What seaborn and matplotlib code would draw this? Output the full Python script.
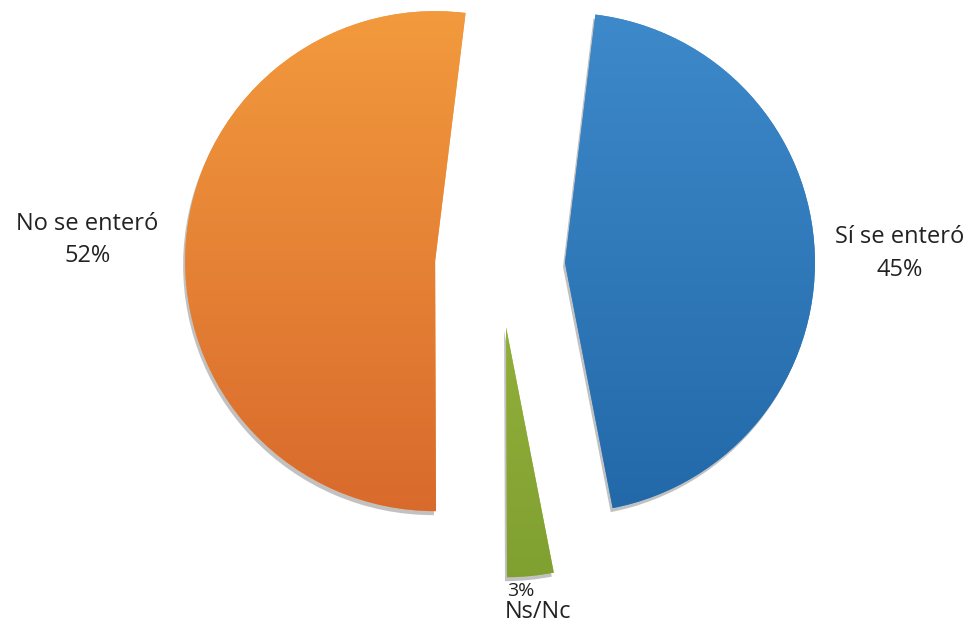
import numpy as np
import matplotlib
matplotlib.use("Agg")
import matplotlib.pyplot as plt
from matplotlib.colors import LinearSegmentedColormap
import seaborn as sns

sns.set_style("white")
plt.rcParams['font.family'] = ['Open Sans', 'DejaVu Sans']

labels = ['Sí se enteró', 'Ns/Nc', 'No se enteró']
shares = [45, 3, 52]
# top / bottom colour of each slice's gradient
tops = ['#3E8ACB', '#A3BF45', '#F39B3E']
bottoms = ['#2268A8', '#7F9F30', '#D8692C']

fig = plt.figure(figsize=(9.76, 6.25), dpi=100)
ax = fig.add_axes([0, 0, 1, 1])

wedges, _ = ax.pie(shares, startangle=83, counterclock=False,
                   explode=[0.26, 0.25, 0.26], radius=1.0,
                   colors=tops, wedgeprops=dict(linewidth=0))

# shadow + vertical gradient clipped to each slice
grad = np.linspace(0, 1, 256).reshape(-1, 1)
for w, c0, c1 in zip(wedges, tops, bottoms):
    sh = plt.matplotlib.patches.Wedge((w.center[0] - 0.008, w.center[1] - 0.016), w.r,
                                      w.theta1, w.theta2, color='#666666', alpha=0.4,
                                      zorder=0.5, linewidth=0)
    ax.add_patch(sh)
    cmap = LinearSegmentedColormap.from_list('g', [c0, c1])
    cx, cy = w.center
    im = ax.imshow(grad, cmap=cmap, aspect='auto',
                   extent=[cx - 1.05, cx + 1.05, cy - 1.05, cy + 1.05],
                   origin='upper', zorder=1)
    im.set_clip_path(w)
    w.set_zorder(0.8)

ax.text(-1.65, 0.10, 'No se enteró\n52%', ha='center', va='center',
        fontsize=17, color='#222222', linespacing=1.5)
ax.text(1.6, 0.045, 'Sí se enteró\n45%', ha='center', va='center',
        fontsize=17, color='#222222', linespacing=1.5)
ax.text(0.085, -1.305, '3%', ha='center', va='center', fontsize=14, color='#222222')
ax.text(0.152, -1.39, 'Ns/Nc', ha='center', va='center', fontsize=17, color='#222222')

ax.set_xlim(-2.0, 1.904)
ax.set_ylim(-1.44, 1.06)
ax.set_aspect('auto')
ax.axis('off')

fig.savefig('out.png', dpi=100)
